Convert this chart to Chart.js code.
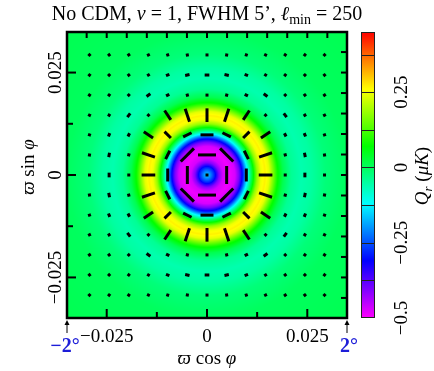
<!DOCTYPE html>
<html>
<head>
<meta charset="utf-8">
<script src="https://cdn.jsdelivr.net/npm/chart.js@4.4.1/dist/chart.umd.min.js"></script>
<style>
  html, body { margin: 0; padding: 0; background: #fff; }
</style>
</head>
<body>
<canvas id="qrMap" width="434" height="371"></canvas>
<script>
// map spans +-2 degrees (radians on the axes)
const span = 0.0349

// radial profile of the colour map: radius (rad) -> Q_r (uK)
const heatR = [0, 0.001, 0.002, 0.003, 0.004, 0.0055, 0.007, 0.008, 0.009, 0.010, 0.011, 0.012,
  0.0125, 0.0135, 0.0145, 0.0155, 0.0165, 0.0175, 0.019, 0.021, 0.0235, 0.026, 0.0295, 0.035, 0.05]
const heatQ = [-0.15, -0.22, -0.30, -0.41, -0.47, -0.49, -0.47, -0.40, -0.28, -0.13, 0.0, 0.12,
  0.18, 0.25, 0.27, 0.24, 0.16, 0.08, 0.01, -0.04, -0.06, -0.05, -0.02, 0.0, 0.01]

// polarization sticks: grid positions and signed amplitude vs radius (+ radial, - tangential)
const gridPos = [-0.0293, -0.0244, -0.0195, -0.0146, -0.0098, -0.0049, 0,
  0.0049, 0.0098, 0.0146, 0.0195, 0.0244, 0.0293]
const markR = [0, 0.0049, 0.0069, 0.0098, 0.0109, 0.0127, 0.0138, 0.0146, 0.0156, 0.0176,
  0.0195, 0.0207, 0.0218, 0.0244, 0.0264, 0.0293, 0.0342, 0.0415]
const markAmp = [0, -0.50, -0.52, -0.36, -0.27, 0.0, 0.24, 0.38, 0.38, 0.31,
  0.03, 0.06, -0.10, -0.13, -0.10, -0.04, -0.01, 0]

// axes
const xTicks = [-0.025, 0, 0.025]
const xTickLabels = ['\u22120.025', '0', '0.025']
const minorTicks = [-0.0125, 0.0125]
const edgeTicks = [-0.030, -0.025, -0.020, -0.015, -0.010, -0.005, 0, 0.005, 0.010, 0.015, 0.020, 0.025, 0.030]

// colour bar
const cbMin = -0.5
const cbMax = 0.45
const cbBands = [-0.375, -0.25, -0.125, 0, 0.125, 0.25, 0.375]
const cbTicks = [0.25, 0, -0.25, -0.5]
const cbTickLabels = ['0.25', '0', '\u22120.25', '\u22120.5']

const SERIF = '"Liberation Serif", "DejaVu Serif", serif'

function interp(xs, ys, v) {
  if (v <= xs[0]) return ys[0]
  for (let i = 1; i < xs.length; i++) {
    if (v <= xs[i]) {
      const t = (v - xs[i - 1]) / (xs[i] - xs[i - 1])
      return ys[i - 1] + t * (ys[i] - ys[i - 1])
    }
  }
  return ys[ys.length - 1]
}

function colorOf(v) {
  let t = (cbMax - v) / (cbMax - cbMin)
  t = Math.max(0, Math.min(1, t))
  const h = 300 * t / 60
  const i = Math.floor(h) % 6
  const f = h - Math.floor(h)
  const q = 1 - f
  const rgb = [[1, f, 0], [q, 1, 0], [0, 1, f], [0, q, 1], [f, 0, 1], [1, 0, q]][i]
  return rgb.map(c => Math.round(c * 255))
}

const points = []
const radii = []
const rotations = []
gridPos.forEach(gy => {
  gridPos.forEach(gx => {
    const r = Math.hypot(gx, gy)
    const a = interp(markR, markAmp, r)
    points.push({ x: gx, y: gy })
    radii.push(Math.max(3, 36 * Math.abs(a)) / 2)
    let ang = Math.atan2(-gy, gx) * 180 / Math.PI
    if (a < 0) ang += 90
    rotations.push(ang)
  })
})

function drawRich(ctx, parts, x, y, rot) {
  ctx.save()
  ctx.translate(x, y)
  if (rot) ctx.rotate(rot)
  let total = 0
  parts.forEach(p => { ctx.font = p.font; total += ctx.measureText(p.text).width })
  let cx = -total / 2
  ctx.textBaseline = 'alphabetic'
  ctx.textAlign = 'left'
  parts.forEach(p => {
    ctx.font = p.font
    ctx.fillStyle = p.color || '#000'
    ctx.fillText(p.text, cx, p.dy || 0)
    cx += ctx.measureText(p.text).width
  })
  ctx.restore()
}

const heatmap = {
  id: 'heatmap',
  beforeDatasetsDraw(chart) {
    const { ctx, chartArea: a, scales: { x, y } } = chart
    const w = Math.round(a.right - a.left)
    const h = Math.round(a.bottom - a.top)
    const img = ctx.createImageData(w, h)
    for (let py = 0; py < h; py++) {
      const vy = y.getValueForPixel(a.top + py + 0.5)
      for (let px = 0; px < w; px++) {
        const vx = x.getValueForPixel(a.left + px + 0.5)
        const c = colorOf(interp(heatR, heatQ, Math.hypot(vx, vy)))
        const k = (py * w + px) * 4
        img.data[k] = c[0]; img.data[k + 1] = c[1]; img.data[k + 2] = c[2]; img.data[k + 3] = 255
      }
    }
    ctx.putImageData(img, Math.round(a.left), Math.round(a.top))
  }
}

const frame = {
  id: 'frame',
  afterDatasetsDraw(chart) {
    const { ctx, chartArea: a, scales: { x, y, cb } } = chart
    ctx.save()
    ctx.strokeStyle = '#000'
    ctx.lineWidth = 2
    // inward ticks
    const tick = (x0, y0, x1, y1) => { ctx.beginPath(); ctx.moveTo(x0, y0); ctx.lineTo(x1, y1); ctx.stroke() }
    xTicks.forEach(v => { const p = x.getPixelForValue(v); tick(p, a.bottom, p, a.bottom - 9) })
    minorTicks.forEach(v => { const p = x.getPixelForValue(v); tick(p, a.bottom, p, a.bottom - 6) })
    xTicks.forEach(v => { const p = y.getPixelForValue(v); tick(a.left, p, a.left + 9, p) })
    minorTicks.forEach(v => { const p = y.getPixelForValue(v); tick(a.left, p, a.left + 6, p) })
    edgeTicks.forEach(v => { const p = x.getPixelForValue(v); tick(p, a.top, p, a.top + 6) })
    edgeTicks.forEach(v => { const p = y.getPixelForValue(v); tick(a.right, p, a.right - 6, p) })
    ctx.lineWidth = 2.5
    ctx.strokeRect(a.left, a.top, a.right - a.left, a.bottom - a.top)

    // tick labels
    ctx.fillStyle = '#000'
    ctx.font = '19px ' + SERIF
    ctx.textAlign = 'center'
    ctx.textBaseline = 'alphabetic'
    xTicks.forEach((v, i) => ctx.fillText(xTickLabels[i], x.getPixelForValue(v), 342))
    xTicks.forEach((v, i) => {
      ctx.save()
      ctx.translate(61, y.getPixelForValue(v))
      ctx.rotate(-Math.PI / 2)
      ctx.fillText(xTickLabels[i], 0, 0)
      ctx.restore()
    })

    // corner markers
    ctx.lineWidth = 1
    ;[-span, span].forEach(v => {
      const p = x.getPixelForValue(v)
      tick(p, a.bottom + 4, p, a.bottom + 15)
      ctx.beginPath(); ctx.moveTo(p, a.bottom + 2); ctx.lineTo(p - 2.5, a.bottom + 7); ctx.lineTo(p + 2.5, a.bottom + 7); ctx.closePath(); ctx.fill()
    })
    ctx.font = 'bold 20px ' + SERIF
    ctx.fillStyle = '#1d1dd8'
    ctx.fillText('\u22122\u00b0', x.getPixelForValue(-span) - 2, 352)
    ctx.fillText('2\u00b0', x.getPixelForValue(span) + 2, 352)

    // axis titles
    const it = 'italic 19px ' + SERIF
    const rm = '19px ' + SERIF
    drawRich(ctx, [{ text: '\u03d6', font: it }, { text: ' cos ', font: rm }, { text: '\u03c6', font: it }], x.getPixelForValue(0), 364)
    drawRich(ctx, [{ text: '\u03d6', font: it }, { text: ' sin ', font: rm }, { text: '\u03c6', font: it }], 34, y.getPixelForValue(0) - 8, -Math.PI / 2)

    // title
    const tf = '20px ' + SERIF
    const ti = 'italic 20px ' + SERIF
    drawRich(ctx, [
      { text: 'No CDM, ', font: tf }, { text: '\u03bd', font: ti }, { text: ' = 1, FWHM 5\u2019, ', font: tf },
      { text: '\u2113', font: ti }, { text: 'min', font: '14px ' + SERIF, dy: 4 }, { text: ' = 250', font: tf }
    ], 207, 20)

    // colour bar
    const cx0 = 361
    const cw = 14
    const top = cb.getPixelForValue(cbMax)
    const bottom = cb.getPixelForValue(cbMin)
    for (let py = Math.round(top); py < Math.round(bottom); py++) {
      const c = colorOf(cb.getValueForPixel(py + 0.5))
      ctx.fillStyle = 'rgb(' + c.join(',') + ')'
      ctx.fillRect(cx0, py, cw, 1)
    }
    ctx.strokeStyle = '#222'
    ctx.lineWidth = 1
    cbBands.forEach(v => { const p = Math.round(cb.getPixelForValue(v)) + 0.5; tick(cx0, p, cx0 + cw, p) })
    ctx.strokeRect(cx0 + 0.5, Math.round(top) + 0.5, cw - 1, Math.round(bottom) - Math.round(top) - 1)
    ctx.fillStyle = '#000'
    ctx.font = '19px ' + SERIF
    cbTicks.forEach((v, i) => {
      ctx.save()
      ctx.translate(407, cb.getPixelForValue(v))
      ctx.rotate(-Math.PI / 2)
      ctx.fillText(cbTickLabels[i], 0, 0)
      ctx.restore()
    })
    drawRich(ctx, [
      { text: 'Q', font: it }, { text: 'r', font: 'italic 13px ' + SERIF, dy: 4 }, { text: ' (', font: rm },
      { text: '\u03bcK', font: it }, { text: ')', font: rm }
    ], 428, 176, -Math.PI / 2)
    ctx.restore()
  }
}

const context = document.getElementById('qrMap')

const chart = new Chart(context, {
  type: 'scatter',
  data: {
    datasets: [{
      data: points,
      pointStyle: 'line',
      radius: radii,
      rotation: rotations,
      borderWidth: 3,
      borderColor: '#000',
      backgroundColor: '#000',
    }],
  },
  options: {
    responsive: false,
    animation: false,
    devicePixelRatio: 1,
    layout: {
      autoPadding: false,
      padding: { left: 67, right: 87, top: 32, bottom: 53 }
    },
    scales: {
      x: { type: 'linear', min: -span, max: span, display: false },
      y: { type: 'linear', min: -span, max: span, display: false },
      cb: { type: 'linear', axis: 'y', min: cbMin, max: cbMax, display: false }
    },
    plugins: {
      legend: { display: false },
      tooltip: { enabled: false }
    }
  },
  plugins: [heatmap, frame]
})
</script>
</body>
</html>
